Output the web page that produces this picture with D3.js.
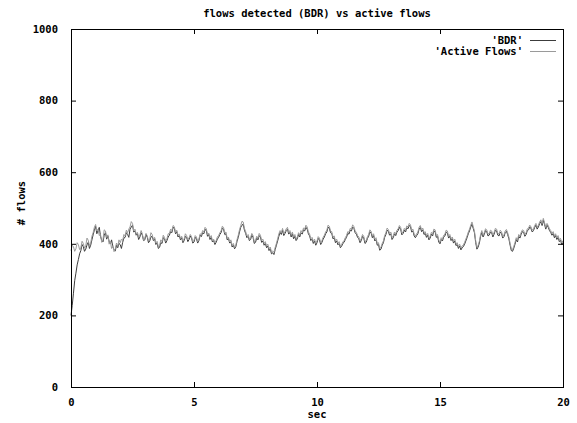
<!DOCTYPE html>
<html>
<head>
<meta charset="utf-8">
<script src="https://cdn.jsdelivr.net/npm/d3@7"></script>
<style>
  html, body { margin: 0; padding: 0; background: #fff; }
  svg text { font-family: "DejaVu Sans Mono", "Liberation Mono", monospace; font-weight: bold; font-size: 10.5px; fill: #000; }
</style>
</head>
<body>
<svg id="chart" width="577" height="423"></svg>
<script>
// Sampling interval of both series, in seconds (20 samples per row = 1 s)
const sampleStep = 0.05;

// Flows detected by BDR
const bdrFlows = [
  200, 228, 262, 297, 318, 341, 356, 372, 381, 398, 392, 379, 385, 397, 404, 387, 396, 411, 425, 438,
  449, 428, 437, 446, 421, 409, 405, 424, 431, 413, 422, 407, 400, 411, 392, 383, 380, 396, 389, 401,
  398, 387, 404, 416, 418, 431, 426, 418, 441, 447, 452, 433, 436, 424, 428, 412, 419, 431, 424, 409,
  411, 426, 418, 403, 408, 419, 421, 409, 414, 398, 402, 387, 390, 403, 401, 417, 414, 402, 409, 419,
  424, 434, 431, 446, 443, 428, 434, 419, 423, 411, 417, 403, 409, 421, 418, 406, 412, 422, 416, 402,
  405, 418, 414, 402, 409, 424, 420, 431, 428, 440, 437, 421, 426, 412, 418, 405, 409, 398, 404, 413,
  418, 426, 431, 444, 441, 426, 428, 411, 415, 402, 406, 391, 396, 386, 392, 407, 418, 433, 446, 452,
  455, 438, 429, 417, 421, 409, 412, 424, 418, 401, 404, 416, 411, 423, 419, 404, 408, 396, 401, 389,
  394, 381, 386, 372, 375, 370, 384, 396, 408, 421, 432, 426, 438, 423, 429, 437, 441, 427, 432, 419,
  428, 414, 421, 409, 414, 426, 419, 431, 427, 439, 436, 446, 441, 428, 422, 409, 413, 401, 408, 396,
  403, 415, 411, 398, 404, 413, 419, 428, 433, 446, 444, 431, 429, 414, 417, 403, 408, 397, 401, 389,
  393, 401, 404, 412, 418, 429, 427, 438, 436, 447, 443, 431, 427, 418, 414, 403, 409, 421, 416, 401,
  404, 415, 421, 434, 430, 417, 423, 408, 412, 396, 398, 382, 385, 396, 403, 418, 426, 438, 435, 424,
  428, 412, 417, 428, 423, 433, 437, 446, 441, 425, 429, 438, 433, 445, 442, 451, 448, 433, 436, 422,
  417, 423, 428, 441, 446, 434, 439, 426, 429, 418, 424, 411, 416, 427, 422, 436, 434, 418, 421, 405,
  400, 412, 408, 419, 422, 433, 430, 416, 421, 409, 414, 402, 408, 395, 398, 387, 394, 383, 389, 392,
  399, 408, 417, 428, 436, 447, 455, 443, 431, 404, 385, 391, 402, 421, 432, 419, 426, 437, 434, 422,
  424, 433, 431, 419, 427, 438, 436, 424, 422, 433, 429, 416, 420, 431, 435, 426, 414, 396, 381, 379,
  388, 399, 412, 405, 421, 416, 427, 434, 432, 421, 426, 437, 439, 447, 442, 433, 437, 446, 452, 441,
  447, 456, 462, 451, 466, 454, 441, 452, 446, 437, 432, 424, 429, 417, 423, 412, 418, 406, 410, 398,
  404
];

// Active flows, same sampling
const activeFlows = [
  381, 396, 392, 379, 386, 403, 398, 384, 389, 407, 401, 388, 394, 416, 410, 395, 402, 421, 431, 446,
  454, 436, 441, 423, 426, 404, 412, 439, 436, 418, 425, 399, 406, 387, 395, 378, 386, 402, 393, 411,
  403, 413, 409, 426, 422, 438, 431, 441, 447, 462, 457, 436, 441, 427, 432, 418, 424, 437, 428, 410,
  416, 429, 422, 408, 413, 431, 426, 412, 418, 402, 407, 392, 395, 411, 406, 424, 418, 407, 414, 428,
  429, 441, 437, 451, 448, 432, 438, 424, 427, 415, 421, 407, 414, 428, 423, 411, 417, 426, 420, 406,
  410, 423, 419, 406, 413, 428, 425, 437, 433, 446, 442, 426, 430, 417, 423, 408, 413, 402, 409, 419,
  423, 431, 436, 449, 446, 430, 433, 415, 419, 405, 411, 395, 401, 390, 397, 412, 424, 439, 451, 463,
  461, 443, 434, 422, 426, 413, 417, 429, 423, 406, 409, 421, 416, 429, 424, 409, 413, 401, 406, 394,
  399, 386, 391, 377, 380, 376, 390, 401, 414, 428, 437, 431, 443, 429, 434, 442, 446, 432, 437, 424,
  433, 419, 426, 413, 419, 431, 424, 437, 432, 444, 441, 452, 447, 433, 427, 414, 418, 406, 413, 401,
  408, 420, 416, 403, 409, 418, 424, 433, 438, 452, 449, 436, 434, 419, 422, 408, 413, 402, 406, 394,
  398, 405, 409, 417, 423, 434, 432, 443, 441, 453, 448, 436, 432, 423, 419, 408, 414, 426, 421, 406,
  409, 420, 426, 439, 435, 422, 428, 413, 417, 401, 403, 387, 390, 401, 408, 423, 431, 444, 440, 429,
  433, 417, 422, 433, 428, 438, 442, 451, 446, 430, 434, 443, 438, 450, 447, 457, 453, 438, 441, 427,
  422, 428, 433, 446, 451, 439, 444, 431, 434, 423, 429, 416, 421, 432, 427, 441, 439, 423, 426, 410,
  405, 417, 413, 424, 427, 438, 436, 421, 426, 414, 419, 407, 413, 400, 403, 392, 399, 388, 394, 397,
  404, 413, 422, 433, 441, 452, 461, 448, 436, 409, 390, 396, 407, 426, 437, 424, 431, 442, 439, 427,
  429, 438, 436, 424, 432, 443, 441, 429, 427, 438, 434, 421, 425, 436, 440, 431, 419, 401, 386, 384,
  393, 404, 417, 410, 426, 421, 432, 439, 437, 426, 431, 442, 444, 452, 447, 438, 442, 451, 457, 446,
  452, 461, 467, 456, 471, 459, 446, 457, 451, 442, 437, 429, 434, 422, 428, 417, 423, 411, 415, 403,
  409
];

const xTicks = [0, 5, 10, 15, 20];
const yTicks = [0, 200, 400, 600, 800, 1000];

const seriesNames = ["'BDR'", "'Active Flows'"];
const seriesColors = ["#3c3c3c", "#9a9a9a"];

const titleText = "flows detected (BDR) vs active flows";
const xLabel = "sec";
const yLabel = "# flows";

const svg = d3.select("#chart");
const plotLeft = 71, plotRight = 563, plotTop = 29, plotBottom = 387;

const x = d3.scaleLinear().domain([0, 20]).range([plotLeft, plotRight]);
const y = d3.scaleLinear().domain([0, 1000]).range([plotBottom, plotTop]);

// Plot traces: BDR first, active flows drawn over it
const line = d3.line()
  .x((d, i) => x(i * sampleStep))
  .y(d => y(d));

[bdrFlows, activeFlows].forEach((vals, k) => {
  svg.append("path")
    .datum(vals)
    .attr("fill", "none")
    .attr("stroke", seriesColors[k])
    .attr("stroke-width", 1)
    .attr("d", line);
});

// Axes with inward ticks, mirrored on top and right
const tickLen = 5;
const fmt = d3.format("d");
const axisBottom = d3.axisBottom(x).tickValues(xTicks).tickFormat(fmt).tickSizeInner(-tickLen).tickSizeOuter(0).tickPadding(12);
const axisTop = d3.axisTop(x).tickValues(xTicks).tickSizeInner(-tickLen).tickSizeOuter(0).tickFormat("");
const axisLeft = d3.axisLeft(y).tickValues(yTicks).tickFormat(fmt).tickSizeInner(-tickLen).tickSizeOuter(0).tickPadding(13);
const axisRight = d3.axisRight(y).tickValues(yTicks).tickSizeInner(-tickLen).tickSizeOuter(0).tickFormat("");

function styleAxis(g) {
  g.select(".domain").remove();
  g.selectAll("line").attr("stroke", "#000");
  g.selectAll("text").attr("font-size", null).attr("font-family", null).attr("fill", "#000");
}

svg.append("g").attr("transform", `translate(0,${plotBottom})`).call(axisBottom).call(styleAxis);
svg.append("g").attr("transform", `translate(0,${plotTop})`).call(axisTop).call(styleAxis);
svg.append("g").attr("transform", `translate(${plotLeft},0)`).call(axisLeft).call(styleAxis);
svg.append("g").attr("transform", `translate(${plotRight},0)`).call(axisRight).call(styleAxis);

// Frame
svg.append("rect")
  .attr("x", plotLeft + 0.5).attr("y", plotTop + 0.5)
  .attr("width", plotRight - plotLeft).attr("height", plotBottom - plotTop)
  .attr("fill", "none").attr("stroke", "#000").attr("stroke-width", 1);

// Titles
svg.append("text").attr("x", (plotLeft + plotRight) / 2).attr("y", 17)
  .attr("text-anchor", "middle").text(titleText);
svg.append("text").attr("x", (plotLeft + plotRight) / 2).attr("y", 418)
  .attr("text-anchor", "middle").text(xLabel);
svg.append("text")
  .attr("transform", "translate(25,203) rotate(-90)")
  .attr("text-anchor", "middle").text(yLabel);

// Legend
const legend = svg.append("g");
seriesNames.forEach((name, k) => {
  const ly = 40 + k * 11;
  legend.append("text").attr("x", 523).attr("y", ly + 4)
    .attr("text-anchor", "end").text(name);
  legend.append("line")
    .attr("x1", 530).attr("x2", 556)
    .attr("y1", ly + 0.5).attr("y2", ly + 0.5)
    .attr("stroke", seriesColors[k]).attr("stroke-width", 1);
});
</script>
</body>
</html>
